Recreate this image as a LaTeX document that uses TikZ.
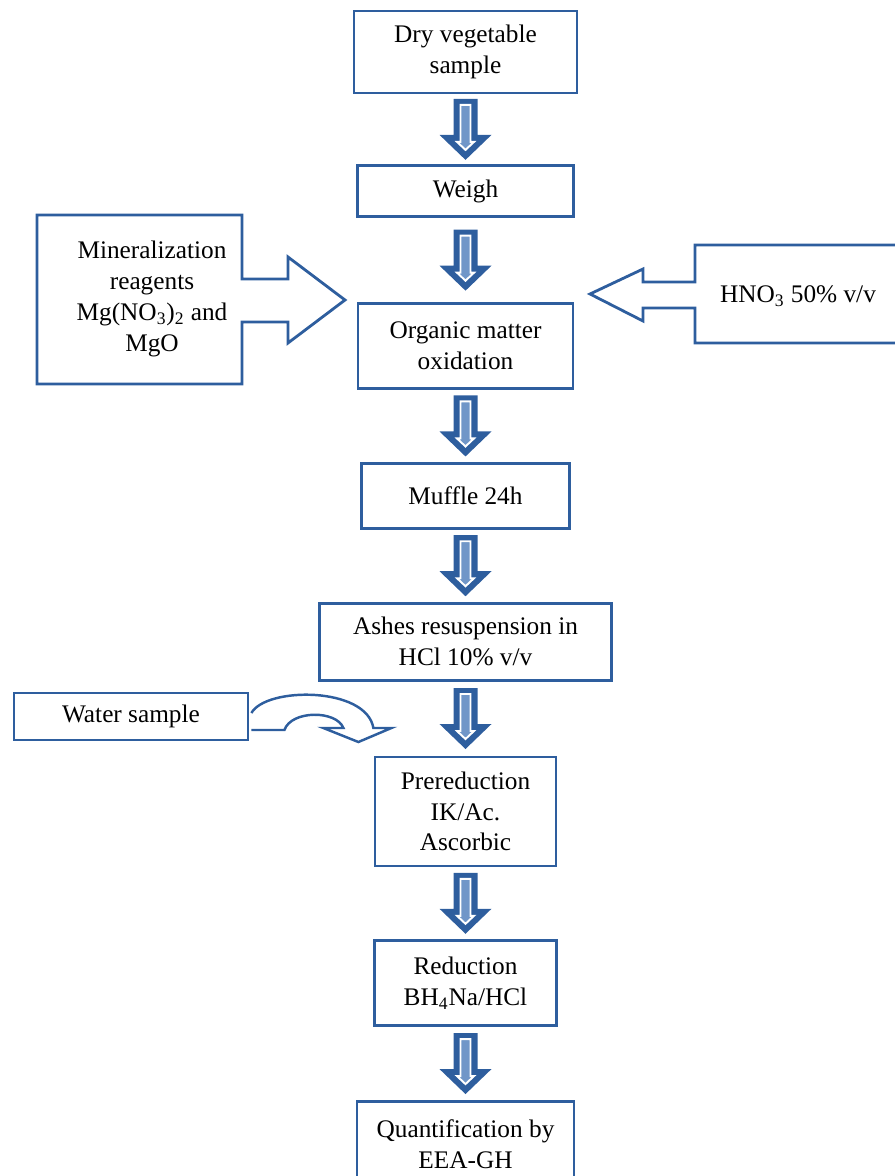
\documentclass[tikz,border=0pt]{standalone}
\usepackage{fontspec}
\setmainfont{Liberation Serif}
\usetikzlibrary{positioning,calc}
\definecolor{flowblue}{RGB}{46,94,158}
\definecolor{flowlight}{RGB}{112,150,200}
\tikzset{
  stepbox/.style={draw=flowblue, line width=1.6pt, align=center, inner sep=2pt},
  sideline/.style={draw=flowblue, line width=1.6pt, line join=miter},
  flowarrow/.pic={
    \fill[flowblue] (-12,-30.5) -- (12,-30.5) -- (12,5.5) -- (26,5.5) -- (0,30.5)
      -- (-26,5.5) -- (-12,5.5) -- cycle;
    \filldraw[fill=flowlight, draw=white, line width=1.1pt] (-5,-24.5) -- (5,-24.5)
      -- (5,12.5) -- (8.5,12.5) -- (0,20.5) -- (-8.5,12.5) -- (-5,12.5) -- cycle;
  }
}

\begin{document}
\begin{tikzpicture}[x=0.02cm, y=-0.02cm, node distance=1.5cm,
    every node/.style={font=\fontsize{14.4}{17.6}\selectfont}]
  \useasboundingbox (0,0) rectangle (894,1176);
  % Define nodes
  \node[stepbox, minimum width=4.46cm, minimum height=1.64cm] (dry) at (465.5,52) {Dry vegetable\\sample};
  \node[stepbox, minimum width=4.32cm, minimum height=1.02cm, below=1.4cm of dry] (weigh) {Weigh};
  \node[stepbox, minimum width=4.3cm, minimum height=1.7cm, below=1.68cm of weigh] (organic) {Organic matter\\oxidation};
  \node[stepbox, minimum width=4.16cm, minimum height=1.3cm, below=1.44cm of organic] (muffle) {Muffle 24h};
  \node[stepbox, minimum width=5.84cm, minimum height=1.54cm, below=1.44cm of muffle] (ashes) {Ashes resuspension in\\HCl 10\% v/v};
  \node[stepbox, minimum width=3.62cm, minimum height=2.18cm, below=1.48cm of ashes] (prered) {Prereduction\\IK/Ac.\\Ascorbic};
  \node[stepbox, minimum width=3.64cm, minimum height=1.7cm, below=1.44cm of prered] (reduct) {Reduction\\BH\textsubscript{4}Na/HCl};
  \node[stepbox, minimum width=4.34cm, minimum height=1.7cm, below=1.46cm of reduct] (quant) {Quantification by\\EEA-GH};
  \node[stepbox, minimum width=4.68cm, minimum height=0.94cm] (water) at (131,716.5) {Water sample};
  \node[align=center] (mineral) at (152,299) {Mineralization\\reagents\\Mg(NO\textsubscript{3})\textsubscript{2} and\\MgO};
  \node (hno) at (798,296) {HNO\textsubscript{3} 50\% v/v};
  % Side arrow boxes
  \draw[sideline] (242,279) -- (242,215) -- (37,215) -- (37,384) -- (242,384) -- (242,322)
    -- (288,322) -- (288,343) -- (345,300) -- (288,257) -- (288,279) -- cycle;
  \draw[sideline] (695,282) -- (695,245) -- (900,245) -- (900,343) -- (695,343) -- (695,308)
    -- (643,308) -- (643,321) -- (590,294) -- (643,269) -- (643,282) -- cycle;
  \begin{scope}[shift={(water.east)}]
    \draw[sideline, line width=1.4pt] (2,-3.5) .. controls (17,-30) and (117,-30) .. (124,11.5)
      -- (142,11.5) -- (109,25.5) -- (74,11.5) -- (94,11.5)
      .. controls (87,-6.5) and (42,-6.5) .. (35,13.5) -- (2,13.5);
  \end{scope}
  % Connect nodes
  \pic at ($(dry.south)!0.5!(weigh.north)$) {flowarrow};
  \pic at ($(weigh.south)!0.5!(organic.north)$) {flowarrow};
  \pic at ($(organic.south)!0.5!(muffle.north)$) {flowarrow};
  \pic at ($(muffle.south)!0.5!(ashes.north)$) {flowarrow};
  \pic at ($(ashes.south)!0.5!(prered.north)$) {flowarrow};
  \pic at ($(prered.south)!0.5!(reduct.north)$) {flowarrow};
  \pic at ($(reduct.south)!0.5!(quant.north)$) {flowarrow};
\end{tikzpicture}
\end{document}
